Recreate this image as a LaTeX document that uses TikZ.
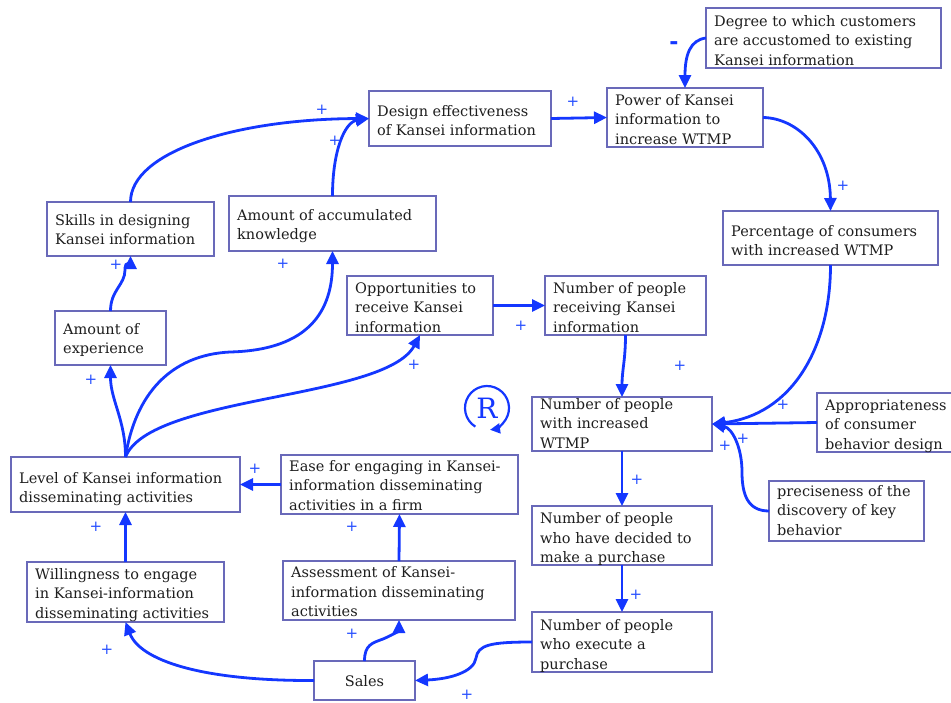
\documentclass[tikz,border=0pt]{standalone}
\usepackage{fontspec}
\setmainfont{DejaVu Serif}
\newfontfamily\plusfont{DejaVu Sans}
\usetikzlibrary{arrows.meta}
\definecolor{arr}{RGB}{20,55,255}
\definecolor{bord}{RGB}{105,105,185}
\definecolor{txtc}{RGB}{30,30,30}
\definecolor{plusc}{RGB}{40,80,255}
\tikzset{
  boxst/.style={draw=bord, line width=1.5pt, fill=white, inner sep=0pt, outer sep=0pt},
  txt/.style={inner sep=0pt, align=left, text=txtc, font=\fontsize{14.5}{19.6}\selectfont},
  link/.style={draw=arr, line width=2.8pt, -{Triangle[length=13pt,width=12pt]}},
  pl/.style={text=plusc, font=\plusfont\fontsize{15}{15}\selectfont, inner sep=0pt},
}
\newcommand\kbox[7]{%
  \node[boxst, minimum width={#4-#2}, minimum height={#5-#3}, anchor=north west] (#1) at (#2,#3) {};
  \node[txt, anchor=north west] (#1t) at (#2+8,#6-13) {\rule{0pt}{13pt}#7};
}
\begin{document}
\begin{tikzpicture}[x=1pt, y=-1pt]
\useasboundingbox (0,0) rectangle (951,702);
% boxes
\kbox{degree}{706}{8}{941}{68}{26}{Degree to which customers\\are accustomed to existing\\Kansei information}
\kbox{power}{607}{88}{763}{147}{105}{Power of Kansei\\information to\\increase WTMP}
\kbox{design}{369}{91}{551}{146}{116}{Design effectiveness\\of Kansei information}
\kbox{pct}{723}{211}{938}{265}{236}{Percentage of consumers\\with increased WTMP}
\kbox{skills}{47}{202}{214}{256}{225}{Skills in designing\\Kansei information}
\kbox{accum}{229}{196}{436}{251}{220}{Amount of accumulated\\knowledge}
\kbox{opp}{347}{276}{493}{335}{293}{Opportunities to\\receive Kansei\\information}
\kbox{recv}{545}{276}{706}{335}{293}{Number of people\\receiving Kansei\\information}
\kbox{exper}{55}{311}{166}{365}{334}{Amount of\\experience}
\kbox{wtmp}{532}{397}{712}{451}{409}{Number of people\\with increased\\WTMP}
\kbox{approp}{817}{393}{960}{452}{410}{Appropriateness\\of consumer\\behavior design}
\kbox{level}{11}{457}{240}{512}{483}{Level of Kansei information\\disseminating activities}
\kbox{ease}{281}{455}{518}{514}{471}{Ease for engaging in Kansei-\\information disseminating\\activities in a firm}
\kbox{precise}{769}{481}{924}{541}{496}{preciseness of the\\discovery of key\\behavior}
\kbox{decided}{532}{506}{712}{565}{523.5}{Number of people\\who have decided to\\make a purchase}
\kbox{will}{27}{562}{224}{622}{579}{Willingness to engage\\in Kansei-information\\disseminating activities}
\kbox{assess}{283}{561}{515}{620}{577.5}{Assessment of Kansei-\\information disseminating\\activities}
\kbox{execute}{532}{612}{712}{672}{630}{Number of people\\who execute a\\purchase}
\node[boxst, minimum width=101pt, minimum height=39pt, anchor=north west] (sales) at (314,661) {};
\node[txt, anchor=base] (salest) at (364.5,686) {Sales};
% R symbol
\node[text=arr, inner sep=0pt, font=\fontsize{28}{28}\selectfont] (rsym) at (487,408) {R};
\draw[draw=arr, line width=2.2pt, -{Triangle[length=10pt,width=10pt]}]
  ([shift={(-122:22pt)}]rsym.center) arc[start angle=-122, end angle=-442, radius=22pt];
% connectors
\draw[link] (skills.north) .. controls (130.5,152) and (235,119) .. (design.west);
\draw[link] (accum.north) .. controls (332.5,150) and (345,122) .. (design.west);
\draw[link] (design.east) -- (power.west);
\draw[link] (degree.west) .. controls (690,40) and (685,55) .. (power.north);
\draw[link] (power.east) .. controls (797,118) and (830,150) .. (pct.north);
\draw[link] (pct.south) .. controls (830.5,350) and (790,415) .. (wtmp.east);
\draw[link] (approp.west) -- (wtmp.east);
\draw[link] (precise.west) .. controls (748,511) and (742,495) .. (742,472)
  .. controls (742,447) and (732,428) .. (wtmp.east);
\draw[link] (opp.east) -- (recv.west);
\draw[link] (recv.south) .. controls (625.5,360) and (622,370) .. (wtmp.north);
\draw[link] (wtmp.south) -- (decided.north);
\draw[link] (decided.south) -- (execute.north);
\draw[link] (execute.west) .. controls (490,642) and (478,645) .. (476,658)
  .. controls (474,672) and (450,679) .. (sales.east);
\draw[link] (sales.west) .. controls (200,681) and (140,660) .. (will.south);
\draw[link] (sales.north) .. controls (364.5,645) and (372,643) .. (383,639)
  .. controls (395,634) and (399,630) .. (assess.south);
\draw[link] (assess.north) -- (ease.south);
\draw[link] (ease.west) -- (level.east);
\draw[link] (will.north) -- (level.south);
\draw[link] (level.north) .. controls (125.5,420) and (110.5,400) .. (exper.south);
\draw[link] (exper.north) .. controls (110.5,290) and (125,285) .. (125,270) -- (125,268)
  .. controls (125,262) and (130.5,262) .. (skills.south);
\draw[link] (level.north) .. controls (135,395) and (170,355) .. (230,352)
  .. controls (310,350) and (332.5,310) .. (accum.south);
\draw[link] (level.north) .. controls (150,395) and (385,400) .. (opp.south);
% polarity signs
\node[pl] (p1) at (322,110) {+};
\node[pl] (p2) at (335,141) {+};
\node[pl] (p3) at (573,102) {+};
\node[text=arr, inner sep=0pt, font=\plusfont\bfseries\fontsize{22}{22}\selectfont] (m1) at (674,46) {-};
\node[pl] (p4) at (843,186) {+};
\node[pl] (p5) at (116,265) {+};
\node[pl] (p6) at (283,264) {+};
\node[pl] (p7) at (414,365) {+};
\node[pl] (p8) at (521,326) {+};
\node[pl] (p9) at (680,366) {+};
\node[pl] (p10) at (783,405) {+};
\node[pl] (p11) at (743,439) {+};
\node[pl] (p12) at (725,446) {+};
\node[pl] (p13) at (91,380) {+};
\node[pl] (p14) at (255,469) {+};
\node[pl] (p15) at (352,527) {+};
\node[pl] (p16) at (96,527) {+};
\node[pl] (p17) at (107,650) {+};
\node[pl] (p18) at (352,634) {+};
\node[pl] (p19) at (467,695) {+};
\node[pl] (p20) at (637,480) {+};
\node[pl] (p21) at (636,595) {+};
\end{tikzpicture}
\end{document}
